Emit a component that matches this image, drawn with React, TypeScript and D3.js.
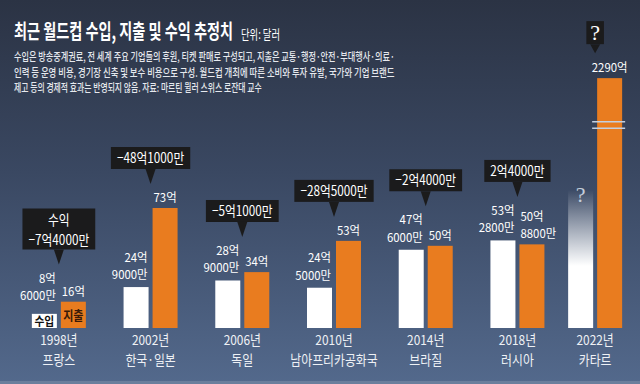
import * as d3 from "d3";

// 최근 월드컵 수입/지출/수익 (단위: 억 달러)
const years = ["1998년", "2002년", "2006년", "2010년", "2014년", "2018년", "2022년"];
const hosts = ["프랑스", "한국·일본", "독일", "남아프리카공화국", "브라질", "러시아", "카타르"];
const income: (number | null)[] = [8.6, 24.9, 28.9, 24.5, 47.6, 53.28, null];
const expense = [16, 73, 34, 53, 50, 50.88, 2290];
const incomeLabels = [["8억", "6000만"], ["24억", "9000만"], ["28억", "9000만"], ["24억", "5000만"], ["47억", "6000만"], ["53억", "2800만"], ["?"]];
const expenseLabels = [["16억"], ["73억"], ["34억"], ["53억"], ["50억"], ["50억", "8800만"], ["2290억"]];
const profitLabels = [["수익", "−7억4000만"], ["−48억1000만"], ["−5억1000만"], ["−28억5000만"], ["−2억4000만"], ["2억4000만"], ["?"]];

const title = "최근 월드컵 수입, 지출 및 수익 추정치";
const unit = "단위: 달러";
const bodyLines = [
  "수입은 방송중계권료, 전 세계 주요 기업들의 후원, 티켓 판매로 구성되고, 지출은 교통·행정·안전·부대행사·의료·",
  "인력 등 운영 비용, 경기장 신축 및 보수 비용으로 구성. 월드컵 개최에 따른 소비와 투자 유발, 국가와 기업 브랜드",
  "제고 등의 경제적 효과는 반영되지 않음. 자료: 마르틴 뮐러 스위스 로잔대 교수",
];

const W = 640;
const H = 384;
const BASE = 328;
const BREAK_AT = 100; // values above this are drawn with an axis break
const BROKEN_SHOWN = 152;
const UNKNOWN_SHOWN = 84;
const LAST_SHIFT = -14;
const BAR_W = 25;
const FONT = "'Noto Sans CJK KR', 'Noto Sans', sans-serif";
const SERIF = "'Liberation Serif', serif";
const ORANGE = "#e97c1f";
const LINE = 17.5;
const VSIZE = 12;
const VSX = 0.95;

const x = d3.scaleBand<string>().domain(years).range([13, 655]);
const y = d3.scaleLinear().domain([0, 73]).range([BASE, 208]);

const center = (i: number) =>
  (x(years[i]) ?? 0) + x.bandwidth() / 2 + (i === years.length - 1 ? LAST_SHIFT : 0);

const ctx = document.createElement("canvas").getContext("2d")!;
function measure(s: string, size: number, weight: number | string = 400, family = FONT) {
  ctx.font = `${weight} ${size}px ${family}`;
  return ctx.measureText(s).width;
}

// condensed text, possibly multi-line (one <text>, lines as tspans)
function CText(props: {
  x: number; y: number; size: number; sx?: number; anchor?: string; lines: string[];
  fill?: string; weight?: number | string; family?: string; lh?: number;
}) {
  const { x, y, size, sx = VSX, anchor = "middle", fill = "#fff", weight = 400, family = FONT, lh = LINE, lines } = props;
  return (
    <text
      transform={`translate(${x},${y}) scale(${sx},1)`}
      fontSize={size}
      textAnchor={anchor}
      fill={fill}
      fontWeight={weight}
      fontFamily={family}
    >
      {lines.map((s, k) => (
        <tspan key={k} x={0} dy={k === 0 ? 0 : lh}>
          {s}
        </tspan>
      ))}
    </text>
  );
}

// text squeezed to a target width
function FitText(props: { x: number; y: number; size: number; width: number; weight?: number; fill: string; children: string }) {
  const nat = measure(props.children, props.size, props.weight ?? 400);
  const sx = nat > 0 ? props.width / nat : 1;
  return (
    <text
      transform={`translate(${props.x},${props.y}) scale(${sx},1)`}
      fontSize={props.size}
      fontWeight={props.weight ?? 400}
      fill={props.fill}
      fontFamily={FONT}
    >
      {props.children}
    </text>
  );
}

export default function App() {
  const groups = years.map((yr, i) => {
    const c = center(i);
    const wx = c - BAR_W - 2;
    const ox = c + 2;
    const inc = income[i];
    const exp = expense[i];
    const expTop = y(exp > BREAK_AT ? BROKEN_SHOWN : exp);
    const incTop = inc == null ? y(UNKNOWN_SHOWN) : y(inc);
    const incBase = inc == null ? incTop + 12 : Math.min(incTop - 8, BASE - 28);
    const expBase = Math.min(expTop - 6, BASE - 30);
    const incFirst = incBase - (incomeLabels[i].length - 1) * LINE;
    const expFirst = expBase - (expenseLabels[i].length - 1) * LINE;
    const labelTop = inc == null ? expFirst - 11 : Math.min(incFirst, expFirst) - 10;
    const tipY = labelTop - 8;
    return { yr, i, c, wx, ox, inc, exp, expTop, incTop, incBase, expBase, incFirst, expFirst, tipY };
  });

  return (
    <svg width={W} height={H} style={{ position: "fixed", left: 0, top: 0 }} fontFamily={FONT}>
      <defs>
        <linearGradient id="bg" x1="0" y1="0" x2="0" y2="1">
          <stop offset="0%" stopColor="#2b3344" />
          <stop offset="45%" stopColor="#3a4862" />
          <stop offset="100%" stopColor="#53698c" />
        </linearGradient>
        <linearGradient id="fade" x1="0" y1="1" x2="0" y2="0">
          <stop offset="0%" stopColor="#ffffff" stopOpacity={1} />
          <stop offset="45%" stopColor="#ffffff" stopOpacity={1} />
          <stop offset="100%" stopColor="#ffffff" stopOpacity={0} />
        </linearGradient>
      </defs>
      <rect width={W} height={H} fill="url(#bg)" />
      <rect y={381} width={W} height={3} fill="#6a7e9c" />

      {/* title and note */}
      <FitText x={14} y={39} size={20} weight={700} width={219} fill="#fff">{title}</FitText>
      <FitText x={241} y={39} size={13} width={39} fill="#fff">{unit}</FitText>
      {bodyLines.map((l, k) => (
        <FitText key={k} x={14} y={[61, 77, 92][k]} size={11} weight={500} width={[381, 381, 248][k]} fill="#e6e9ee">
          {l}
        </FitText>
      ))}

      {groups.map((g) => {
        const last = g.i === years.length - 1;
        const pl = profitLabels[g.i];
        const pSize = 14;
        const pSx = 0.84;
        const boxW = Math.max(...pl.map((s) => measure(s, pSize) * pSx)) + 12;
        const boxH = last ? 23 : pl.length === 1 ? 22 : 41;
        const boxBottom = g.tipY - (last ? 9 : 15);
        const boxTop = boxBottom - boxH;
        const il = incomeLabels[g.i];
        const el = expenseLabels[g.i];
        return (
          <g key={g.yr}>
            {/* income bar */}
            <rect
              x={g.wx}
              y={g.incTop}
              width={BAR_W}
              height={BASE - g.incTop}
              fill={g.inc != null ? "#fff" : "url(#fade)"}
            />
            {/* expense bar */}
            <rect x={g.ox} y={g.expTop} width={BAR_W} height={BASE - g.expTop} fill={ORANGE} />
            {g.exp > BREAK_AT && (
              <g stroke="#c3cfe0" strokeWidth={1.6}>
                <line x1={g.ox - 5} x2={g.ox + BAR_W + 3} y1={y(125.5)} y2={y(125.5)} />
                <line x1={g.ox - 5} x2={g.ox + BAR_W + 3} y1={y(121.5)} y2={y(121.5)} />
              </g>
            )}

            {/* value labels */}
            {g.inc != null ? (
              <CText x={g.wx + BAR_W - 1} y={g.incFirst} size={VSIZE} anchor="end" lines={il} />
            ) : (
              <CText x={g.wx + BAR_W / 2} y={g.incBase} size={22} sx={1} fill="#c4cedb" family={SERIF} lines={il} />
            )}
            <CText
              x={el.length > 1 ? g.ox + 1 : g.ox + BAR_W / 2}
              y={g.expFirst}
              size={VSIZE}
              anchor={el.length > 1 ? "start" : "middle"}
              lines={el}
            />

            {/* profit callout */}
            <rect x={g.c - boxW / 2} y={boxTop} width={boxW} height={boxH} fill="#1b1b1c" />
            <path d={`M${g.c - 5},${boxBottom} L${g.c + 5},${boxBottom} L${g.c},${g.tipY} Z`} fill="#1b1b1c" />
            {last ? (
              <CText x={g.c} y={boxBottom - 4} size={22} sx={1} family={SERIF} lines={pl} />
            ) : (
              <CText x={g.c} y={boxTop + 16} size={pSize} sx={pSx} lh={20.5} lines={pl} />
            )}

            {/* category labels */}
            <CText x={g.c} y={345} size={13.5} sx={0.88} fill="#eef1f5" lh={19.6} lines={[g.yr, hosts[g.i]]} />

            {/* legend inside the first group */}
            {g.i === 0 && (
              <>
                <CText x={g.wx + BAR_W / 2} y={BASE - 2} size={12} sx={0.9} fill="#111" weight={700} lines={["수입"]} />
                <CText x={g.ox + BAR_W / 2} y={BASE - 8} size={13} sx={0.85} fill="#3a1a08" weight={700} lines={["지출"]} />
              </>
            )}
          </g>
        );
      })}
    </svg>
  );
}
